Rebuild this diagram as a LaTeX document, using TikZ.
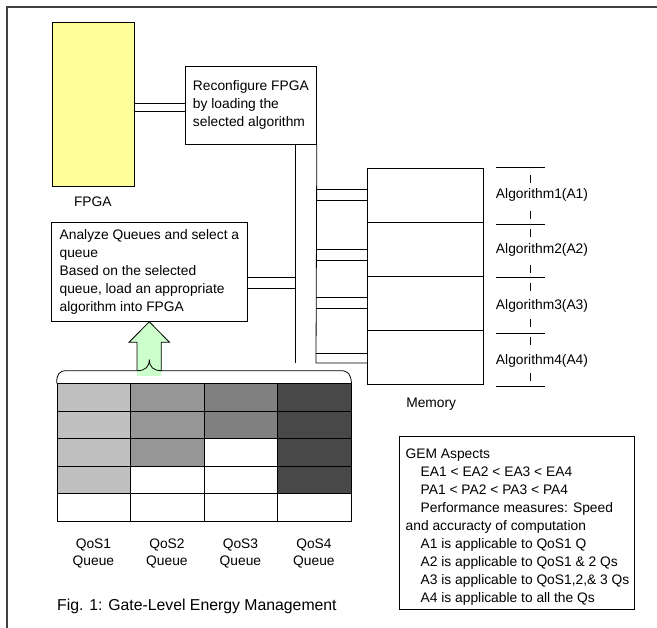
\documentclass[tikz,border=0pt]{standalone}
\usepackage{fontspec}
\setmainfont{Liberation Sans}
\definecolor{fpgayellow}{RGB}{255,255,153}
\definecolor{arrowgreen}{RGB}{204,255,204}
\definecolor{qa}{RGB}{192,192,192}
\definecolor{qb}{RGB}{150,150,150}
\definecolor{qc}{RGB}{128,128,128}
\definecolor{qd}{RGB}{72,72,72}
\begin{document}
\begin{tikzpicture}[x=1pt,y=-1pt, line width=0.8pt,
  txt/.style={font=\fontsize{13.8}{18}\selectfont, inner sep=0pt},
  box/.style={draw, align=left, font=\fontsize{13.8}{18}\selectfont, inner sep=0pt, anchor=north west},
  cell/.style={draw, minimum width=73.5pt, minimum height=27.5pt, inner sep=0pt, anchor=north west},
  memcell/.style={draw, minimum width=115.4pt, minimum height=54pt, inner sep=0pt, anchor=north west},
  alg/.style={font=\fontsize{13.8}{18}\selectfont, fill=white, inner xsep=0pt, inner ysep=2pt}]
\useasboundingbox (0,0) rectangle (657,628);
\draw[line width=1.2pt, black!75] (657,7) -- (7,7) -- (7,628);

% FPGA
\node[draw, fill=fpgayellow, minimum width=81.4pt, minimum height=164pt, anchor=north west, inner sep=0pt] (fpga) at (52.3,22) {};
\node[txt] (fpgalbl) at (92.8,201.7) {FPGA};

% Reconfigure box
\node[box, minimum width=131pt, minimum height=78pt] (reconf) at (185,66) {Reconfigure FPGA\\by loading the\\selected algorithm};

% Analyze box
\node[box, minimum width=196pt, minimum height=99pt] (anal) at (51,222) {Analyze Queues and select a\\queue\\Based on the selected\\queue, load an appropriate\\algorithm into FPGA};

% FPGA -- reconfigure double line
\draw (fpga.east |- 0,103) -- (reconf.west |- 0,103);
\draw (fpga.east |- 0,111) -- (reconf.west |- 0,111);

% Memory
\node[memcell] (mem1) at (367.3,168) {};
\node[memcell] (mem2) at (367.3,222) {};
\node[memcell] (mem3) at (367.3,276) {};
\node[memcell] (mem4) at (367.3,330) {};
\node[txt] (memlbl) at (431.2,404) {Memory};

% bus lines
\coordinate (busA) at (295.5,363);
\coordinate (busB) at (316,363);
\draw (reconf.south -| busA) -- (busA);
\draw (reconf.south east) -- (busB) -- (busB -| mem4.west);
\foreach \y in {189.3,200.3,249.3,260.7,297.7,308.7,353.3}
  \draw (busB |- 0,\y) -- (mem1.west |- 0,\y);
\foreach \y in {277.3,288.3}
  \draw (anal.east |- 0,\y) -- (busA |- 0,\y);

% Algorithm labels
\draw[dash pattern=on 8pt off 10pt] (530.7,175) -- (530.7,383);
\foreach \y in {167.3,224,277,333.3,386.7}
  \draw (496,\y) -- (545,\y);
\node[alg] (alg1) at (542,195) {Algorithm1(A1)};
\node[alg] (alg2) at (542,250) {Algorithm2(A2)};
\node[alg] (alg3) at (542,305.7) {Algorithm3(A3)};
\node[alg] (alg4) at (542,361) {Algorithm4(A4)};

% Queue table
\foreach \r in {1,...,5}
  \foreach \c/\n/\col in {1/4/qa,2/3/qb,3/2/qc,4/4/qd} {
    \ifnum\r>\n \def\cellfill{white}\else\def\cellfill{\col}\fi
    \node[cell, fill=\cellfill] (q\c\r) at ({56.7+73.5*(\c-1)},{383.3+27.5*(\r-1)}) {};
  }

% Arrow
\fill[arrowgreen] (137,376) -- (137,342.3) -- (129,342.3) -- (anal.south -| 149.3,0) -- (169.5,342.3) -- (161.3,342.3) -- (161.3,376) -- cycle;
\draw (137,371) -- (137,342.3) -- (129,342.3) -- (anal.south -| 149.3,0) -- (169.5,342.3) -- (161.3,342.3) -- (161.3,371);

% Brace
\draw (q11.north west) .. controls (56.7,374) and (59,370.7) .. (67,370.7) -- (137.4,370.7)
  .. controls (145,370.7) and (149.3,367) .. (149.3,359.5)
  .. controls (149.3,367) and (153.6,370.7) .. (161.3,370.7) -- (340.4,370.7)
  .. controls (348.4,370.7) and (350.7,374) .. (q41.north east);

% Queue labels
\node[txt, align=center, font=\fontsize{13.8}{16.7}\selectfont] (ql1) at (93.45,553.3) {QoS1\\Queue};
\node[txt, align=center, font=\fontsize{13.8}{16.7}\selectfont] (ql2) at (166.95,553.3) {QoS2\\Queue};
\node[txt, align=center, font=\fontsize{13.8}{16.7}\selectfont] (ql3) at (240.45,553.3) {QoS3\\Queue};
\node[txt, align=center, font=\fontsize{13.8}{16.7}\selectfont] (ql4) at (313.95,553.3) {QoS4\\Queue};

% Caption
\node[anchor=west, inner sep=0pt, font=\fontsize{15.8}{18}\selectfont] (cap) at (56.7,606) {Fig. 1: Gate-Level Energy Management};

% GEM box
\node[draw, minimum width=235pt, minimum height=173.3pt, anchor=north west, inner sep=0pt] (gem) at (399.3,435.7) {};
\node[anchor=north west, align=left, inner sep=0pt, font=\fontsize{13.8}{18}\selectfont] (gemtxt) at (405.3,448) {GEM Aspects\\
\hspace*{15pt}EA1 < EA2 < EA3 < EA4\\
\hspace*{15pt}PA1 < PA2 < PA3 < PA4\\
\hspace*{15pt}Performance measures: Speed\\
and accuracty of computation\\
\hspace*{15pt}A1 is applicable to QoS1 Q\\
\hspace*{15pt}A2 is applicable to QoS1 \& 2 Qs\\
\hspace*{15pt}A3 is applicable to QoS1,2,\& 3 Qs\\
\hspace*{15pt}A4 is applicable to all the Qs};
\end{tikzpicture}
\end{document}
